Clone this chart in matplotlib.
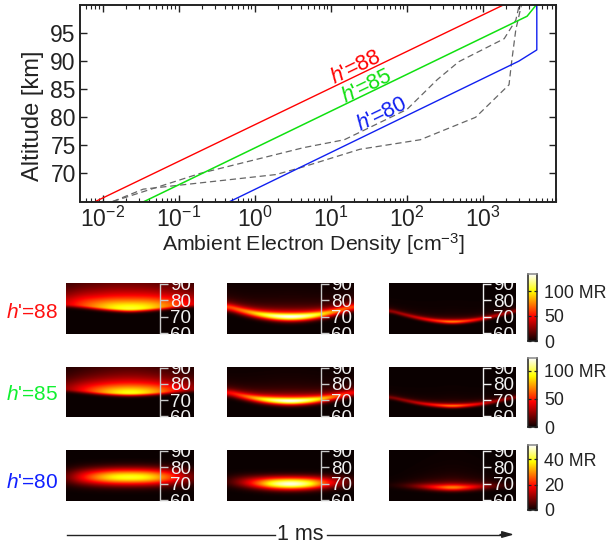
import numpy as np
import matplotlib
matplotlib.use("Agg")
import matplotlib.pyplot as plt
from matplotlib.lines import Line2D
from matplotlib.ticker import LogLocator, NullFormatter, FixedLocator

plt.rcParams.update({
    "font.family": ["Liberation Sans", "DejaVu Sans"],
    "mathtext.fontset": "custom",
    "mathtext.rm": "Liberation Sans",
    "mathtext.it": "Liberation Sans:italic",
    "mathtext.default": "regular",
    "axes.unicode_minus": False,
    "text.color": "#222222",
    "axes.labelcolor": "#222222",
})

# ---------- profile data ----------
alt_red = [65, 100]
ne_red = [0.008, 1850]
alt_green = [65, 98, 100]
ne_green = [0.035, 3800, 5000]
alt_blue = [65, 90, 92, 100]
ne_blue = [0.47, 2960, 5100, 5100]
alt_gray1 = [65, 70, 74.6, 76, 81.4, 86.7, 89.9, 94, 97.3, 100]
ne_gray1 = [0.0135, 0.19, 4.4, 15, 100, 250, 480, 1900, 2700, 3000]
alt_gray2 = [65, 67.2, 69.8, 71.2, 74.3, 76, 80, 85.8, 89.3, 95.6, 100]
ne_gray2 = [0.0135, 0.034, 1.9, 4.4, 24, 150, 800, 2200, 2350, 2700, 3200]
density_ticks = [1e-2, 1e-1, 1e0, 1e1, 1e2, 1e3]
density_labels = ["$10^{-2}$", "$10^{-1}$", "$10^{0}$", "$10^{1}$", "$10^{2}$", "$10^{3}$"]

row_labels = ["88", "85", "80"]
row_colors = ["#ff1010", "#10f030", "#1020ff"]

# ---------- panel readings at fractions of the 1 ms window ----------
time_knots = [0, 0.125, 0.25, 0.375, 0.5]   # mirrored about the panel centre
centre = [
    [[77.5, 76.8, 75.8, 75.0, 74.5], [76, 73.4, 71.4, 70.2, 69.8], [73.6, 71, 68.8, 67.3, 66.7]],
    [[77, 76.2, 75.3, 74.7, 74.4], [75, 72.6, 70.8, 69.8, 69.4], [72, 69.8, 67.9, 66.8, 66.3]],
    [[73.7, 73.7, 73.7, 73.7, 73.7], [71, 70.5, 70, 69.7, 69.6], [69, 68.6, 68.2, 67.7, 67.5]],
]
peak = [
    [[0.30, 0.46, 0.60, 0.74, 0.80], [0.45, 0.55, 0.72, 0.92, 1.02], [0.20, 0.25, 0.33, 0.44, 0.60]],
    [[0.20, 0.36, 0.54, 0.70, 0.78], [0.34, 0.48, 0.68, 0.90, 1.02], [0.17, 0.22, 0.30, 0.42, 0.58]],
    [[0.12, 0.36, 0.58, 0.74, 0.78], [0.06, 0.24, 0.52, 0.86, 1.0], [0.02, 0.08, 0.22, 0.42, 0.60]],
]
width_low = [[1.3, 1.9, 1.0], [1.3, 1.8, 1.0], [3.3, 2.4, 1.5]]
width_up = [[7.5, 2.2, 1.1], [6.5, 2.2, 1.1], [3.6, 2.8, 2.0]]
gaussian_top = [[False, False, False], [False, False, False], [True, True, False]]

colorbar_max = [134, 123, 51]
colorbar_ticks = [[0, 50, 100], [0, 50, 100], [0, 20, 40]]
colorbar_texts = [["0", "50", "100 MR"], ["0", "50", "100 MR"], ["0", "20", "40 MR"]]
panel_ticks = [60, 70, 80, 90]

W, H = 608, 546
fig = plt.figure(figsize=(W / 100, H / 100), dpi=100)


def rect(x0, y0, x1, y1):
    return [x0 / W, 1 - y1 / H, (x1 - x0) / W, (y1 - y0) / H]


DARK = "#222222"
ax = fig.add_axes(rect(80, 5, 556, 201.5))
ax.set_xscale("log")
ax.plot(ne_gray1, alt_gray1, color="#666666", lw=0.9, ls=(0, (5, 3)))
ax.plot(ne_gray2, alt_gray2, color="#666666", lw=0.9, ls=(0, (5, 3)))
ax.plot(ne_red, alt_red, color="#ff0000", lw=1)
ax.plot(ne_green, alt_green, color="#10e010", lw=1.1)
ax.plot(ne_blue, alt_blue, color="#1020f0", lw=1)
ax.set_yticks([70, 75, 80, 85, 90, 95])
ax.set_xticks(density_ticks)
ax.set_xticklabels(density_labels)
ax.xaxis.set_minor_locator(LogLocator(base=10, subs=np.arange(2, 10), numticks=12))
ax.xaxis.set_minor_formatter(NullFormatter())
ax.set_xlim(10 ** -2.30, 10 ** 3.96)
ax.set_ylim(65, 100)
ax.tick_params(axis="both", which="major", direction="in", top=True, right=True,
               length=5, width=1, labelsize=16.5, color=DARK, labelcolor=DARK)
ax.tick_params(axis="x", which="major", pad=4)
ax.tick_params(axis="y", which="major", pad=3)
ax.tick_params(axis="x", which="minor", direction="in", top=True, length=3, width=0.8, color=DARK)
for s in ax.spines.values():
    s.set_linewidth(1.4)
    s.set_color(DARK)
fig.text(313.5 / W, 1 - 244 / H, "Ambient Electron Density [cm$^{-3}$]", fontsize=15.3,
         ha="center", va="center")
fig.text(33 / W, 1 - 116 / H, "Altitude [km]", fontsize=17, rotation=90,
         ha="center", va="center")


def fig_text(x, y, s, **kw):
    fig.text(x / W, 1 - y / H, s, ha=kw.pop("ha", "center"), va=kw.pop("va", "center"), **kw)


for (x, y), lab, col in zip([(355.7, 68), (367, 87), (382, 115)], row_labels, ["#ff0000", "#10e010", "#1020f0"]):
    fig_text(x, y, "$\\mathit{h}$'=" + lab, color=col, fontsize=15.5, rotation=25.8, rotation_mode="anchor")

# ---------- heat panels ----------
col_x = [(66, 193), (227, 354), (389, 516)]
row_y = [(283, 334), (367, 417), (450, 501)]
row_label_y = [312, 395, 483]
col_spine = ["#c8c8c8", "#c8c8c8", "#f0f0f0"]
alt_grid = np.linspace(58, 92, 120)
time_grid = np.linspace(0, 1, 127)
smooth = np.ones(15) / 15


def soften(v):
    return np.convolve(np.pad(v, 7, mode="edge"), smooth, mode="valid")


for r in range(3):
    for c in range(3):
        knots = time_knots + [1 - t for t in time_knots[-2::-1]]
        cen = centre[r][c] + centre[r][c][-2::-1]
        pk = peak[r][c] + peak[r][c][-2::-1]
        cc = soften(np.interp(time_grid, knots, cen))
        pp = soften(np.interp(time_grid, knots, pk))
        img = np.zeros((alt_grid.size, time_grid.size))
        for j in range(time_grid.size):
            d = alt_grid - cc[j]
            low = np.exp(-0.5 * (d / width_low[r][c]) ** 2)
            if gaussian_top[r][c]:
                up = np.exp(-0.5 * (d / width_up[r][c]) ** 2)
            else:
                up = 1 / (1 + (d / width_up[r][c]) ** 2)
            img[:, j] = pp[j] * np.where(d < 0, low, up)
        a = fig.add_axes(rect(col_x[c][0], row_y[r][0], col_x[c][1], row_y[r][1]))
        a.imshow(img, origin="lower", aspect="auto", cmap="hot", vmin=0, vmax=1,
                 extent=[0, 1, alt_grid[0], alt_grid[-1]], interpolation="bilinear")
        a.set_ylim(59.4, 90.6)
        a.set_xticks([])
        a.set_yticks(panel_ticks)
        a.yaxis.tick_right()
        for n in ["top", "bottom", "left"]:
            a.spines[n].set_visible(False)
        sp = a.spines["right"]
        sp.set_position(("axes", 0.74))
        sp.set_bounds(60, 90)
        sp.set_color(col_spine[c])
        sp.set_linewidth(1)
        a.tick_params(axis="y", direction="out", length=6, width=1, color=col_spine[c],
                      labelcolor="#f0f0f0", labelsize=13.5, pad=1.5)
        for lab in a.get_yticklabels():
            lab.set_clip_box(a.bbox)
            lab.set_clip_on(True)
            lab.set_zorder(5)
    fig_text(58, row_label_y[r], "$\\mathit{h}$'=" + row_labels[r],
             color=row_colors[r], fontsize=15, ha="right")

# ---------- colour bars ----------
cb_y = [(274, 341), (358, 427), (445, 510)]
gradient = np.linspace(0, 1, 256).reshape(-1, 1)
for r in range(3):
    b = fig.add_axes(rect(528, cb_y[r][0], 537, cb_y[r][1]))
    b.imshow(gradient, origin="lower", aspect="auto", cmap="hot",
             extent=[0, 1, 0, colorbar_max[r]])
    b.set_xticks([])
    b.yaxis.set_major_locator(FixedLocator(colorbar_ticks[r]))
    b.set_yticklabels(colorbar_texts[r])
    b.yaxis.tick_right()
    b.tick_params(axis="y", direction="in", left=True, right=True, length=2.5, width=0.9,
                  color="#222222", labelsize=12.8, pad=5, labelcolor=DARK)
    for s in b.spines.values():
        s.set_color("#222222")
        s.set_linewidth(1.1)
    b.spines["top"].set_color("#888888")

# ---------- time arrow ----------
yl = 534.5
fig.add_artist(Line2D([67 / W, 275 / W], [1 - yl / H] * 2, color=DARK, lw=1))
fig_text(300, yl - 0.5, "1 ms", fontsize=15.5, color=DARK)
fig.add_artist(Line2D([327 / W, 505 / W], [1 - yl / H] * 2, color=DARK, lw=1))
ax.annotate("", xy=(514 / W, 1 - yl / H), xytext=(500 / W, 1 - yl / H), xycoords="figure fraction",
            textcoords="figure fraction", annotation_clip=False,
            arrowprops=dict(arrowstyle="-|>,head_length=0.7,head_width=0.2", color=DARK, lw=1,
                            shrinkA=0, shrinkB=0))

fig.savefig("out.png", dpi=100)
